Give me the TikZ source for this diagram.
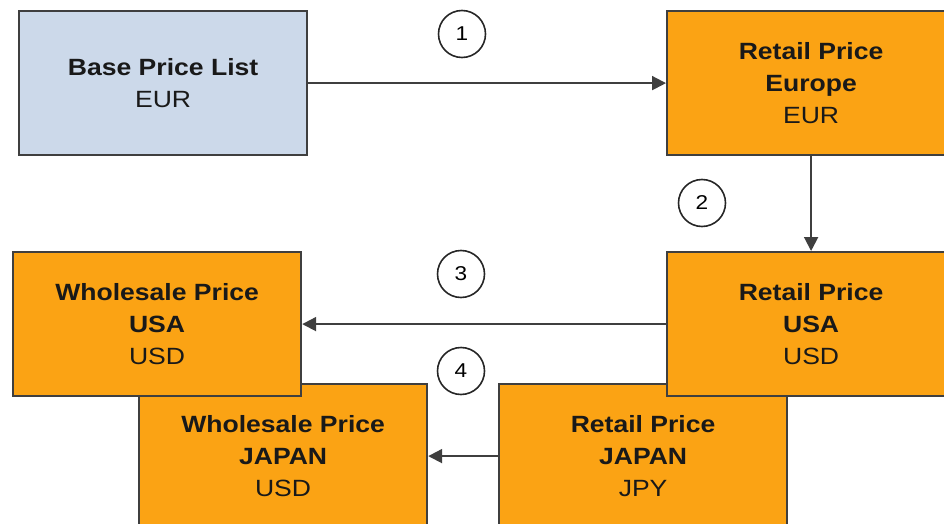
\documentclass[tikz,border=0pt]{standalone}
\usepackage{fontspec}
\setmainfont{Liberation Sans}[FakeStretch=1.13]
\usetikzlibrary{arrows.meta}

\definecolor{listblue}{HTML}{CCD9EA}
\definecolor{priceorange}{HTML}{FBA314}
\definecolor{edgegray}{HTML}{3F3F3F}

\begin{document}
\begin{tikzpicture}[
  x=1pt, y=-1pt,
  font=\fontsize{23.5}{32}\selectfont,
  pricebox/.style={draw=edgegray, line width=2.2pt, minimum width=288pt, minimum height=144pt, anchor=north west, align=center, inner sep=0pt, text=black!90, fill=priceorange},
  stepnum/.style={circle, draw=black!85, line width=1.6pt, minimum size=47pt, inner sep=0pt, fill=white, font=\fontsize{20}{20}\selectfont},
  arr/.style={-{Triangle[length=14pt,width=14pt]}, draw=edgegray, line width=2pt}
]
\clip (0,0) rectangle (944,524);

% ---------- top row ----------
\node[pricebox, fill=listblue] (base)   at (18,10)  {\textbf{Base Price List}\\EUR};
\node[pricebox]                (europe) at (666,10) {\textbf{Retail Price}\\\textbf{Europe}\\EUR};

% ---------- lower rows (Japan behind USA) ----------
\node[pricebox] (wholejp)  at (138,383) {\textbf{Wholesale Price}\\\textbf{JAPAN}\\USD};
\node[pricebox] (retailjp) at (498,383) {\textbf{Retail Price}\\\textbf{JAPAN}\\JPY};
\node[pricebox] (wholeus)  at (12,251)  {\textbf{Wholesale Price}\\\textbf{USA}\\USD};
\node[pricebox] (retailus) at (666,251) {\textbf{Retail Price}\\\textbf{USA}\\USD};

% ---------- connectors ----------
\draw[arr] (base.east)     -- (europe.west);
\draw[arr] (europe.south)  -- (retailus.north);
\draw[arr] (retailus.west) -- (wholeus.east);
\draw[arr] (retailjp.west) -- (wholejp.east);

% step markers
\node[stepnum] (one)   at (462,34)  {1};
\node[stepnum] (two)   at (702,203) {2};
\node[stepnum] (three) at (461,274) {3};
\node[stepnum] (four)  at (461,371) {4};

\end{tikzpicture}
\end{document}
